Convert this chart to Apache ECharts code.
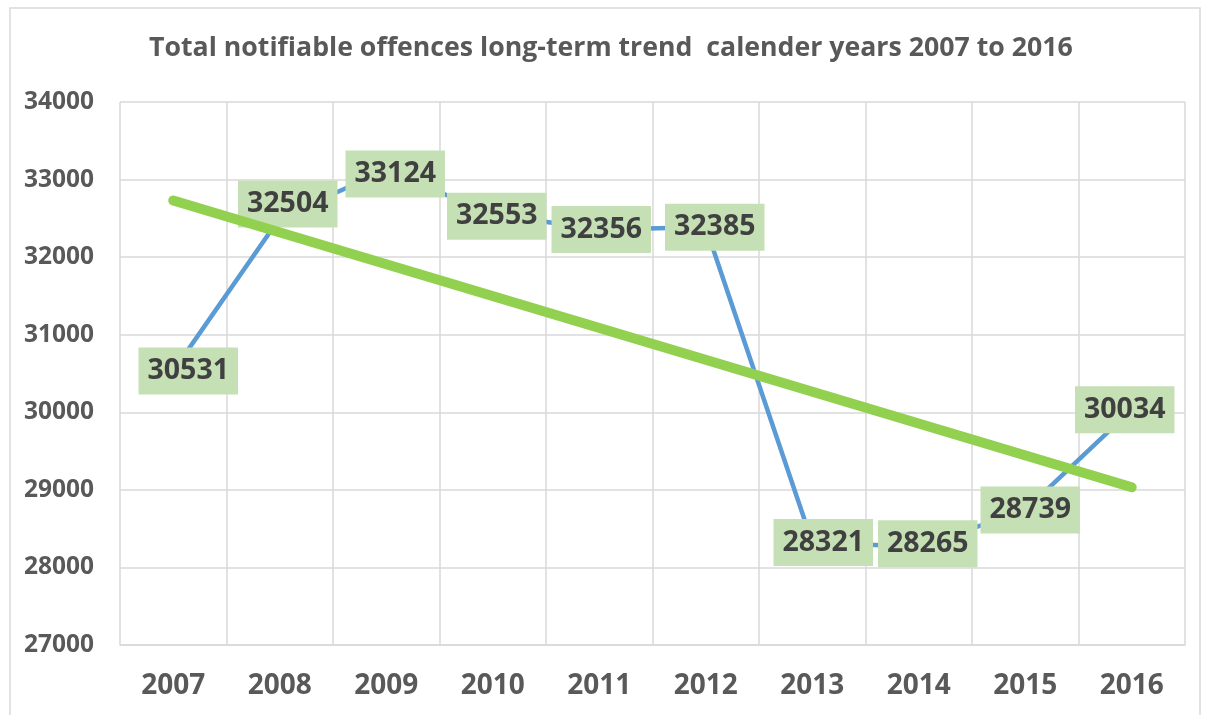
<!DOCTYPE html>
<html>
<head>
<meta charset="utf-8">
<script src="https://cdn.jsdelivr.net/npm/echarts@6/dist/echarts.min.js"></script>
<style>
  html, body { margin: 0; padding: 0; background: #fff; }
  #main { width: 1208px; height: 715px; }
</style>
</head>
<body>
<div id="main"></div>
<script>
// years on the x axis
var years = ['2007', '2008', '2009', '2010', '2011', '2012', '2013', '2014', '2015', '2016'];
// total notifiable offences per calendar year
var offences = [30531, 32504, 33124, 32553, 32356, 32385, 28321, 28265, 28739, 30034];
// linear trend line, end points (middle left empty)
var trend = [32730, null, null, null, null, null, null, null, null, 29033];

// nudges for the data label boxes (px), like the hand-placed excel labels
var labelNudge = [[15, 0], [8, -14], [9, 4], [4, 2], [2, 0], [9, 0], [11, 0], [9, -3], [5, 0], [-7, 0]];

var myChart = echarts.init(document.getElementById('main'));

var font = '"Open Sans", "Noto Sans", sans-serif';
var gridColor = '#D9D9D9';

var offenceData = offences.map(function (v, i) {
    return { value: v, label: { offset: labelNudge[i] } };
});

option = {
    backgroundColor: '#fff',
    animation: false,
    title: {
        text: 'Total notifiable offences long-term trend  calender years 2007 to 2016',
        left: 144,
        top: 30,
        textStyle: {
            fontFamily: font,
            fontSize: 26.7,
            fontWeight: 'bold',
            color: '#595959'
        }
    },
    graphic: [{
        type: 'rect',
        shape: { x: 10, y: 8, width: 1190, height: 730 },
        style: { fill: 'none', stroke: gridColor, lineWidth: 1.5 },
        silent: true
    }],
    grid: {
        left: 120,
        right: 23,
        top: 102,
        bottom: 70
    },
    xAxis: {
        type: 'category',
        data: years,
        boundaryGap: true,
        axisLine: { show: true, lineStyle: { color: gridColor, width: 1.5 } },
        axisTick: { show: false },
        splitLine: { show: true, lineStyle: { color: gridColor, width: 1.5 } },
        axisLabel: {
            margin: 27,
            fontFamily: font,
            fontSize: 28,
            fontWeight: 'bold',
            color: '#595959'
        }
    },
    yAxis: {
        type: 'value',
        min: 27000,
        max: 34000,
        interval: 1000,
        axisLine: { show: false },
        axisTick: { show: false },
        splitLine: { lineStyle: { color: gridColor, width: 1.5 } },
        axisLabel: {
            margin: 26,
            fontFamily: font,
            fontSize: 24.5,
            fontWeight: 'bold',
            color: '#595959',
            formatter: function (v) { return String(v); }
        }
    },
    series: [
        {
            name: 'Offences',
            type: 'line',
            data: offenceData,
            z: 2,
            symbol: 'circle',
            symbolSize: 1,
            itemStyle: { color: '#5B9BD5' },
            lineStyle: { color: '#5B9BD5', width: 4.5 },
            label: {
                show: true,
                position: 'inside',
                fontFamily: font,
                fontSize: 28.5,
                fontWeight: 'bold',
                color: '#404040',
                backgroundColor: '#C5E0B4',
                padding: [6, 9, 6, 9],
                lineHeight: 35
            }
        },
        {
            name: 'Trend',
            type: 'line',
            data: trend,
            connectNulls: true,
            z: 5,
            zlevel: 1,
            showSymbol: false,
            symbol: 'none',
            lineStyle: { color: '#92D050', width: 10, cap: 'round' },
            itemStyle: { color: '#92D050' }
        }
    ]
};

myChart.setOption(option);
</script>
</body>
</html>
